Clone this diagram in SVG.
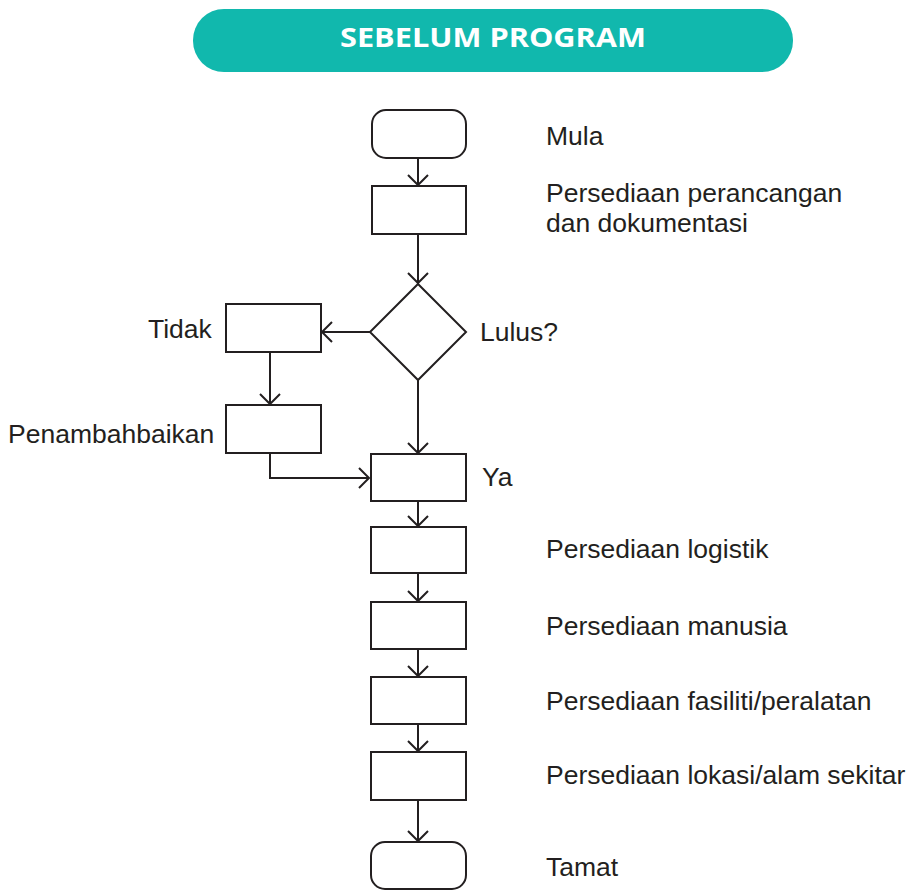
<svg xmlns="http://www.w3.org/2000/svg" width="913" height="890" viewBox="0 0 913 890">
<style>
.n{fill:#fff;stroke:#231f20;stroke-width:2}
.c{fill:none;stroke:#231f20;stroke-width:2}
.t{font-family:"Liberation Sans",Arial,sans-serif;font-size:26.5px;fill:#231f20}
.h{font-family:"Open Sans","Liberation Sans",sans-serif;font-weight:bold;font-size:27px;fill:#fff}
</style>
<defs>
<marker id="a" markerUnits="userSpaceOnUse" markerWidth="24" markerHeight="24" refX="11" refY="11" orient="auto" viewBox="0 0 24 24">
<path d="M1,1 L11,11 L1,21" fill="none" stroke="#231f20" stroke-width="2"/>
</marker>
</defs>
<g id="title">
<rect x="193" y="9" width="600" height="63" rx="31" fill="#11b8ad"/>
<text class="h" x="493" y="47" text-anchor="middle" textLength="306" lengthAdjust="spacingAndGlyphs">SEBELUM PROGRAM</text>
</g>
<g id="connectors">
<path class="c" d="M418,158 V185" marker-end="url(#a)"/>
<path class="c" d="M418,234 V283" marker-end="url(#a)"/>
<path class="c" d="M370,332 H322" marker-end="url(#a)"/>
<path class="c" d="M270,352 V404" marker-end="url(#a)"/>
<path class="c" d="M270,453 V478 H369" marker-end="url(#a)"/>
<path class="c" d="M418,380 V453" marker-end="url(#a)"/>
<path class="c" d="M418,501 V526" marker-end="url(#a)"/>
<path class="c" d="M418,573 V601" marker-end="url(#a)"/>
<path class="c" d="M418,649 V676" marker-end="url(#a)"/>
<path class="c" d="M418,724 V751" marker-end="url(#a)"/>
<path class="c" d="M418,800 V841" marker-end="url(#a)"/>
</g>
<g id="mula"><rect class="n" x="372" y="110" width="94" height="48" rx="14"/><text class="t" x="546" y="145">Mula</text></g>
<g id="perancangan"><rect class="n" x="372" y="186" width="94" height="48"/><text class="t" x="546" y="202">Persediaan perancangan</text><text class="t" x="546" y="232">dan dokumentasi</text></g>
<g id="lulus"><polygon class="n" points="418,284 466,332 418,380 370,332"/><text class="t" x="480" y="341">Lulus?</text></g>
<g id="tidak"><rect class="n" x="226" y="304" width="95" height="48"/><text class="t" x="148" y="338">Tidak</text></g>
<g id="penambahbaikan"><rect class="n" x="226" y="405" width="95" height="48"/><text class="t" x="8" y="443">Penambahbaikan</text></g>
<g id="ya"><rect class="n" x="371" y="454" width="95" height="47"/><text class="t" x="482" y="486">Ya</text></g>
<g id="logistik"><rect class="n" x="371" y="527" width="95" height="46"/><text class="t" x="546" y="558">Persediaan logistik</text></g>
<g id="manusia"><rect class="n" x="371" y="602" width="95" height="47"/><text class="t" x="546" y="635">Persediaan manusia</text></g>
<g id="fasiliti"><rect class="n" x="371" y="677" width="95" height="47"/><text class="t" x="546" y="710">Persediaan fasiliti/peralatan</text></g>
<g id="lokasi"><rect class="n" x="371" y="752" width="95" height="48"/><text class="t" x="546" y="784">Persediaan lokasi/alam sekitar</text></g>
<g id="tamat"><rect class="n" x="371" y="842" width="95" height="47" rx="14"/><text class="t" x="546" y="876">Tamat</text></g>
</svg>
